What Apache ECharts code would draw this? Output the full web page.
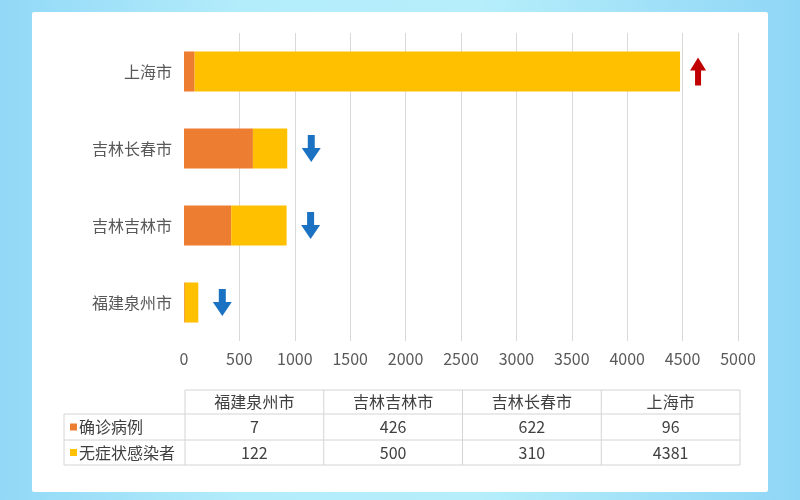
<!DOCTYPE html>
<html><head><meta charset="utf-8">
<script src="https://cdn.jsdelivr.net/npm/echarts@6/dist/echarts.min.js"></script>
<style>
html,body{margin:0;padding:0;}
body{width:800px;height:500px;background:linear-gradient(90deg,#92d9f7 0%,#b3ecfb 30%,#b6eefb 60%,#8fd6f6 100%);}
#c{width:800px;height:500px;}
</style></head><body><div id="c"></div>
<script>
const categories = ['福建泉州市','吉林吉林市','吉林长春市','上海市'];
const confirmed = [7, 426, 622, 96];
const asymptomatic = [122, 500, 310, 4381];
const trend = ['down','down','down','up'];
const seriesNames = ['确诊病例','无症状感染者'];
const xTicks = {min:0, max:5000, interval:500};

const FONT = '"Noto Sans CJK SC","Microsoft YaHei",sans-serif';
const COL_ORANGE = '#ED7D31', COL_YELLOW = '#FFC000';
const UP = 'path://M8,0 L16,13 L11,13 L11,28 L5,28 L5,13 L0,13 Z';
const DOWN = 'path://M6,0 L13,0 L13,13 L19,13 L9.5,27 L0,13 L6,13 Z';

const totals = categories.map((c,i)=>confirmed[i]+asymptomatic[i]);
const arrowData = categories.map((c,i)=>({
  value:[totals[i], c],
  symbol: trend[i]==='up'?UP:DOWN,
  symbolSize: trend[i]==='up'?[16,28]:[19,27],
  symbolOffset: [trend[i]==='up'?18:24, 0],
  itemStyle:{color: trend[i]==='up'?'#C00000':'#1B72C2', opacity:1}
}));

// table graphics
const tbl = {x0:64, xL:185, xR:740, y:[390,414,440,465]};
const colW = (tbl.xR - tbl.xL)/categories.length;
const g = [];
g.push({type:'rect', shape:{x:32,y:12,width:736,height:480,r:2}, style:{fill:'#ffffff'}, z:-10});
const lineStyle = {stroke:'#d4d4d4', lineWidth:1};
g.push({type:'line', shape:{x1:tbl.xL,y1:tbl.y[0],x2:tbl.xR,y2:tbl.y[0]}, style:lineStyle});
for (let k=1;k<4;k++) g.push({type:'line', shape:{x1:tbl.x0,y1:tbl.y[k],x2:tbl.xR,y2:tbl.y[k]}, style:lineStyle});
g.push({type:'line', shape:{x1:tbl.x0,y1:tbl.y[1],x2:tbl.x0,y2:tbl.y[3]}, style:lineStyle});
for (let j=0;j<=categories.length;j++){
  const x = tbl.xL + j*colW;
  g.push({type:'line', shape:{x1:x,y1:tbl.y[0],x2:x,y2:tbl.y[3]}, style:lineStyle});
}
const txt = (s,x,y,align)=>({type:'text', x:x, y:y, style:{text:s, fill:'#404040', font:'16px '+FONT, textAlign:align||'center', textVerticalAlign:'middle'}});
categories.forEach((c,j)=>{
  const cx = tbl.xL + (j+0.5)*colW;
  g.push(txt(c, cx, (tbl.y[0]+tbl.y[1])/2));
  g.push(txt(String(confirmed[j]), cx, (tbl.y[1]+tbl.y[2])/2));
  g.push(txt(String(asymptomatic[j]), cx, (tbl.y[2]+tbl.y[3])/2));
});
[COL_ORANGE, COL_YELLOW].forEach((col,k)=>{
  const cy = (tbl.y[k+1]+tbl.y[k+2])/2;
  g.push({type:'rect', shape:{x:70,y:cy-3.5,width:7,height:7}, style:{fill:col}});
  g.push(txt(seriesNames[k], 79, cy, 'left'));
});

const chart = echarts.init(document.getElementById('c'));
chart.setOption({
  backgroundColor:'transparent',
  animation:false,
  textStyle:{fontFamily:FONT},
  grid:{left:184, right:62, top:33, bottom:159, containLabel:false},
  xAxis:{type:'value', min:xTicks.min, max:xTicks.max, interval:xTicks.interval,
    axisLine:{show:false}, axisTick:{show:false},
    splitLine:{show:true, showMinLine:false, lineStyle:{color:'#d9d9d9', width:1}},
    axisLabel:{color:'#595959', fontSize:16, margin:10, fontFamily:FONT, formatter:(v)=>String(v)}},
  yAxis:{type:'category', data:categories,
    axisLine:{show:false}, axisTick:{show:false},
    axisLabel:{color:'#595959', fontSize:16, margin:12, fontFamily:FONT}},
  series:[
    {name:seriesNames[0], type:'bar', stack:'t', data:confirmed, barWidth:'52%', itemStyle:{color:COL_ORANGE}},
    {name:seriesNames[1], type:'bar', stack:'t', data:asymptomatic, barWidth:'52%', itemStyle:{color:COL_YELLOW}},
    {type:'scatter', data:arrowData, z:5}
  ],
  graphic:g
});
</script></body></html>
